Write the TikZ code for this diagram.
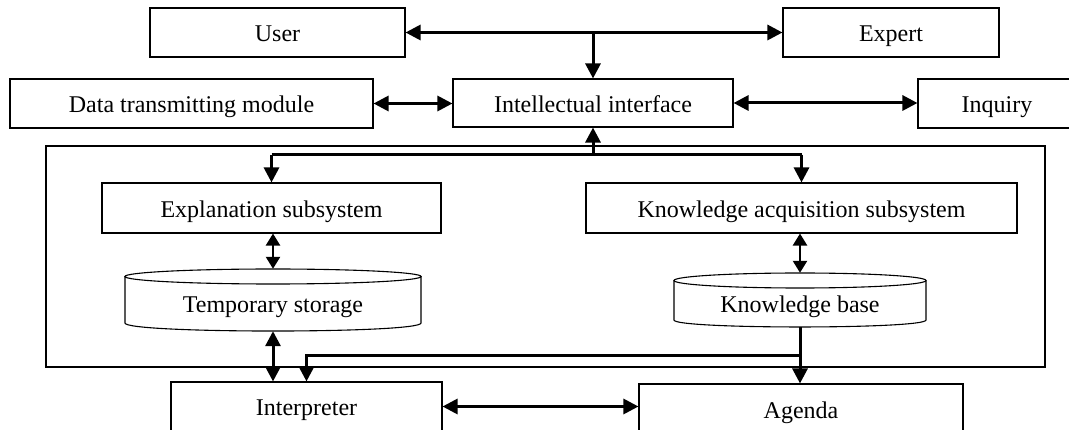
\documentclass[tikz,border=0pt]{standalone}
\usepackage{fontspec}
\setmainfont{Liberation Serif}
\usetikzlibrary{arrows.meta,calc}
\begin{document}
\begin{tikzpicture}[x=1pt,y=-1pt,
  box/.style={draw=black,line width=1.1pt,rectangle,inner sep=0pt,
    text height=19pt,text depth=0pt,
    font=\fontsize{24pt}{28pt}\selectfont},
  plain/.style={rectangle,inner sep=0pt,font=\fontsize{24pt}{28pt}\selectfont},
  cylline/.style={draw=black,line width=1.1pt},
  conn/.style={line width=3pt,-{Triangle[length=15pt,width=15pt]}},
  bconn/.style={line width=3pt,{Triangle[length=15pt,width=15pt]}-{Triangle[length=15pt,width=15pt]}},
  sconn/.style={line width=2.4pt,{Triangle[length=12pt,width=14pt]}-{Triangle[length=12pt,width=14pt]}},
  lineonly/.style={line width=3pt}]
\useasboundingbox (0,0) rectangle (1069,430);
\fill[white] (0,0) rectangle (1069,430);

% outer frame
\draw[line width=1.2pt] (46,146) rectangle (1045,367);

% boxes
\node[box,minimum width=255pt,minimum height=49pt] (user) at (277.5,32.5) {User};
\node[box,minimum width=216pt,minimum height=49pt] (expert) at (891,32.5) {Expert};
\node[box,minimum width=363pt,minimum height=49pt] (dtm) at (191.5,103.5) {Data transmitting module};
\node[box,minimum width=280pt,minimum height=48pt] (ii) at (593,103) {Intellectual interface};
\node[box,minimum width=158pt,minimum height=49pt] (inq) at (997,103.5) {Inquiry};
\node[box,minimum width=339pt,minimum height=50pt] (expl) at (271.5,208) {Explanation subsystem};
\node[box,minimum width=431pt,minimum height=50pt] (kas) at (801.5,208) {Knowledge acquisition subsystem};
\node[box,minimum width=271pt,minimum height=49pt] (interp) at (306.5,406.5) {Interpreter};
\node[box,minimum width=324pt,minimum height=49pt] (agenda) at (801,408.5) {Agenda};

% cylinders
\node[plain,minimum width=296pt,minimum height=62pt] (ts) at (273,300) {};
\draw[cylline] (273,276.5) ellipse [x radius=148pt, y radius=7.5pt];
\draw[cylline] (125,276.5) -- (125,323) .. controls (125,333.7) and (421,333.7) .. (421,323) -- (421,276.5);
\node[plain,anchor=base] at (273,312.5) {Temporary storage};

\node[plain,minimum width=252pt,minimum height=54pt] (kb) at (800,300) {};
\draw[cylline] (800,280.5) ellipse [x radius=126pt, y radius=7.5pt];
\draw[cylline] (674,280.5) -- (674,320) .. controls (674,329.3) and (926,329.3) .. (926,320) -- (926,280.5);
\node[plain,anchor=base] at (800,313) {Knowledge base};

% connectors top
\draw[bconn] (user.east) -- (expert.west);
\coordinate (topj) at (user.east -| ii.north);
\draw[conn] (topj) -- (ii.north);
\draw[bconn] (dtm.east) -- (dtm.east -| ii.west);
\draw[bconn] (ii.east) -- (ii.east -| inq.west);

% bus from interface
\coordinate (busj) at ($(ii.south)+(0,27)$);
\coordinate (busl) at (busj -| expl.north);
\coordinate (busr) at (busj -| kas.north);
\draw[conn] (busj) -- (ii.south);
\draw[lineonly] (busl) -- (busr);
\draw[conn] (busl) -- (expl.north);
\draw[conn] (busr) -- (kas.north);

% subsystems to storages
\draw[sconn] (expl.south -| ts.north) -- (ts.north);
\draw[sconn] (kas.south -| kb.north) -- (kb.north);

% lower
\draw[bconn] (ts.south) -- (ts.south |- interp.north);
\draw[conn] (kb.south) -- (kb.south |- agenda.north);
\coordinate (kbj) at ($(interp.north)+(0,-26)$);
\draw[conn] (kb.south) |- (kbj) -- (interp.north);
\draw[bconn] (interp.east) -- (interp.east -| agenda.west);
\end{tikzpicture}
\end{document}
